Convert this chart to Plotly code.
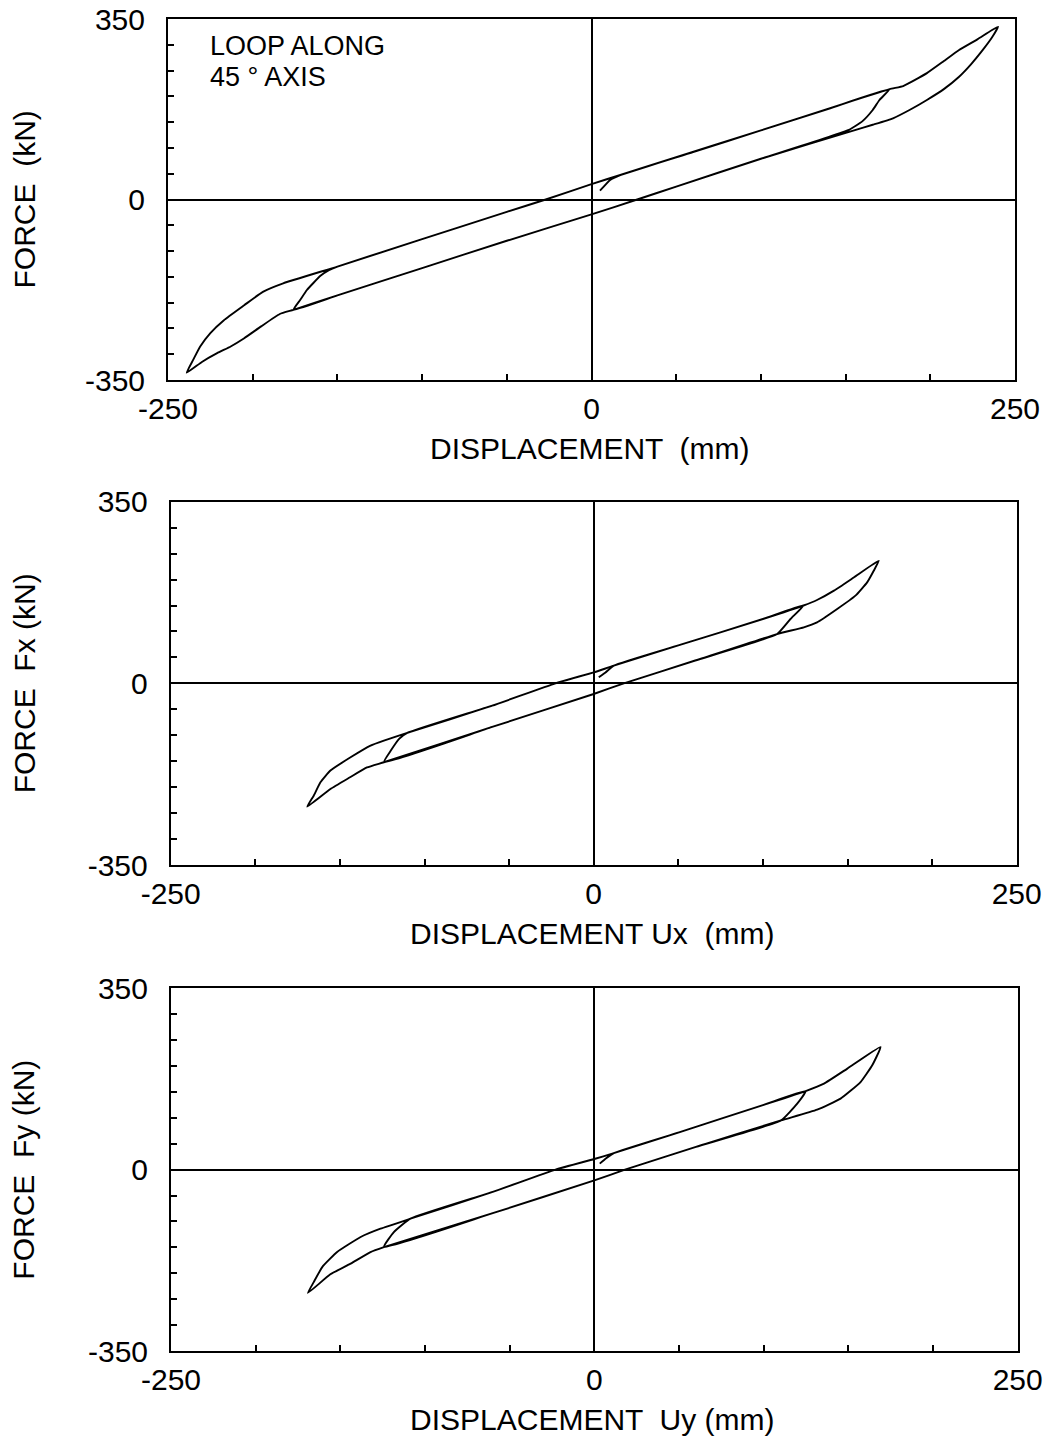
import plotly.graph_objects as go

W, H = 1051, 1440

# ---- Plot 1: loop along 45 deg axis (resultant) ----
disp_res = [5, 11, 17, 60, 100, 140, 176,
            170, 166, 160, 152,
            100, 50, 27, 0, -50, -100, -150, -176,
            -172, -168, -160, -155, -150,
            -100, -50, -27, 0, 17, 50, 100, 150, 176,
            184, 191, 198, 207, 217, 228, 240,
            236, 231, 224, 217, 208, 198, 188, 178, 166, 156,
            100, 50, 27, 0, -50, -100, -150, -176,
            -184, -195, -205, -213, -221, -230, -239,
            -235, -231, -225, -217, -205, -194, -182, -150,
            -100, -50, -27, 0, 17]
force_res = [17, 38, 47.5, 92, 134, 176, 214,
             193, 173.5, 152, 135,
             79, 25, 0, -29, -80, -133, -186, -214,
             -195, -175.5, -148, -137, -130,
             -77, -24, 0, 30, 47.5, 82, 134, 187, 214,
             220, 232, 245, 266, 290, 311, 335,
             312, 290, 262, 238, 214, 193, 174, 157.5, 145, 135,
             79, 25, 0, -29, -80, -133, -186, -214,
             -222, -246, -269, -285, -298, -315, -336,
             -310, -285, -259, -234, -205, -179, -162.5, -130,
             -77, -24, 0, 30, 47.5]

# ---- Plot 2: X component ----
disp_ux = [3, 7, 11.9, 50, 100, 124,
           116.3, 108.4,
           60, 17.8, 0, -60, -124,
           -120, -115, -110.2,
           -60, -22.6, 0, 11.9, 50, 100, 124,
           132, 142, 153.7, 168.5,
           165.5, 161.6, 154.7, 143.9, 132, 124.2, 108.4,
           60, 17.8, 0, -60, -124,
           -134, -144, -155.6, -169.3,
           -165.4, -161.5, -155.6, -143.7, -131.9, -124, -110.2,
           -60, -22.6, 0]
force_fx = [11.6, 21, 34, 73, 124, 150,
            124, 95,
            44, 0, -20.5, -84, -152,
            -130, -107, -95.6,
            -43, 0, 21, 34, 73, 124, 150,
            160.6, 178.6, 204, 236.4,
            217, 194.6, 169, 143.3, 117.5, 108, 95,
            44, 0, -20.5, -84, -152,
            -162, -181, -203.5, -237.6,
            -216, -190.7, -168, -142.5, -120, -110.4, -95.6,
            -43, 0, 21]

# ---- Plot 3: Y component ----
disp_uy = [3.2, 7, 11.5, 50, 100, 124.8,
           119.8, 110.2,
           60, 18.1, 0, -60, -124.3,
           -118.4, -108.6,
           -60, -22.9, 0, 11.5, 50, 100, 124.8,
           135.6, 149.4, 169,
           164.1, 157.2, 145.4, 131.6, 110.2,
           60, 18.1, 0, -60, -124.3,
           -132.2, -144, -155.9, -169.2,
           -165.7, -160.7, -151.9, -138, -126.3, -108.6,
           -60, -22.9, 0]
force_fy = [11.6, 22, 32, 72, 125, 151.7,
            127.4, 95,
            44, 0, -20.7, -84, -149.4,
            -120.5, -94.6,
            -43, 0, 20.5, 32, 72, 125, 151.7,
            166, 195, 236.7,
            201.4, 169, 137, 115.8, 95,
            44, 0, -20.7, -84, -149.4,
            -159, -181.5, -202, -238,
            -217, -188, -159, -130, -114, -94.6,
            -43, 0, 20.5]

x_ticks = list(range(-250, 251, 50))
x_text = ["-250" if v == -250 else "0" if v == 0 else "250" if v == 250 else "" for v in x_ticks]
y_ticks = list(range(-350, 351, 50))
y_text = ["-350" if v == -350 else "0" if v == 0 else "350" if v == 350 else "" for v in y_ticks]

x_titles = ["DISPLACEMENT  (mm)", "DISPLACEMENT Ux  (mm)", "DISPLACEMENT  Uy (mm)"]
y_titles = ["FORCE  (kN)", "FORCE  Fx (kN)", "FORCE  Fy (kN)"]
note_lines = ["LOOP ALONG", "45 \u00b0 AXIS"]

FONT = "Liberation Sans, Arial, Helvetica, sans-serif"
FS = 30

# pixel boxes of the three panels: (left, right, top, bottom)
boxes = [(168, 1015, 19, 380), (170.7, 1016.7, 501.7, 865), (171, 1017.7, 988.3, 1351)]

fig = go.Figure()
series = [(disp_res, force_res), (disp_ux, force_fx), (disp_uy, force_fy)]
for i, (xs, ys) in enumerate(series):
    sfx = "" if i == 0 else str(i + 1)
    fig.add_trace(go.Scatter(x=xs, y=ys, mode="lines",
                             line=dict(color="black", width=1.9, shape="spline", smoothing=0.4),
                             xaxis="x" + sfx, yaxis="y" + sfx,
                             showlegend=False, hoverinfo="skip"))

layout = dict(template="none", width=W, height=H,
              margin=dict(l=0, r=0, t=0, b=0, pad=0, autoexpand=False),
              paper_bgcolor="white", plot_bgcolor="white",
              font=dict(family=FONT, size=FS, color="black"),
              showlegend=False)
annotations = []
for i, (l, r, t, b) in enumerate(boxes):
    sfx = "" if i == 0 else str(i + 1)
    layout["xaxis" + sfx] = dict(
        domain=[l / W, r / W], range=[-250, 250], anchor="y" + sfx,
        tickmode="array", tickvals=x_ticks, ticktext=x_text,
        ticks="inside", ticklen=6, tickwidth=1.5, tickcolor="black",
        showline=True, linecolor="black", linewidth=2, mirror=True,
        showgrid=False, zeroline=True, zerolinecolor="black", zerolinewidth=1.5,
        tickfont=dict(family=FONT, size=FS, color="black"),
        ticklabelstandoff=1, automargin=False, fixedrange=True)
    layout["yaxis" + sfx] = dict(
        domain=[1 - b / H, 1 - t / H], range=[-350, 350], anchor="x" + sfx,
        tickmode="array", tickvals=y_ticks, ticktext=y_text,
        ticks="inside", ticklen=6, tickwidth=1.5, tickcolor="black",
        showline=True, linecolor="black", linewidth=2, mirror=True,
        showgrid=False, zeroline=True, zerolinecolor="black", zerolinewidth=1.5,
        tickfont=dict(family=FONT, size=FS, color="black"),
        ticklabelstandoff=15, automargin=False, fixedrange=True)
    annotations.append(dict(text=x_titles[i], xref="paper", yref="paper",
                            x=((l + r) / 2 - 2) / W, y=1 - (b + 68) / H,
                            xanchor="center", yanchor="middle", showarrow=False,
                            font=dict(family=FONT, size=FS, color="black")))
    annotations.append(dict(text=y_titles[i], xref="paper", yref="paper",
                            x=24 / W, y=1 - ((t + b) / 2) / H, textangle=-90,
                            xanchor="center", yanchor="middle", showarrow=False,
                            font=dict(family=FONT, size=FS, color="black")))

for k, line in enumerate(note_lines):
    annotations.append(dict(text=line, xref="paper", yref="paper",
                            x=208 / W, y=1 - (46 + 31 * k) / H, xanchor="left", yanchor="middle",
                            align="left", showarrow=False,
                            font=dict(family=FONT, size=27, color="black")))
layout["annotations"] = annotations
fig.update_layout(**layout)
fig.write_html("out.html", config={"responsive": False, "displayModeBar": False},
               post_script="document.body.style.margin='0';document.body.style.padding='0';")
